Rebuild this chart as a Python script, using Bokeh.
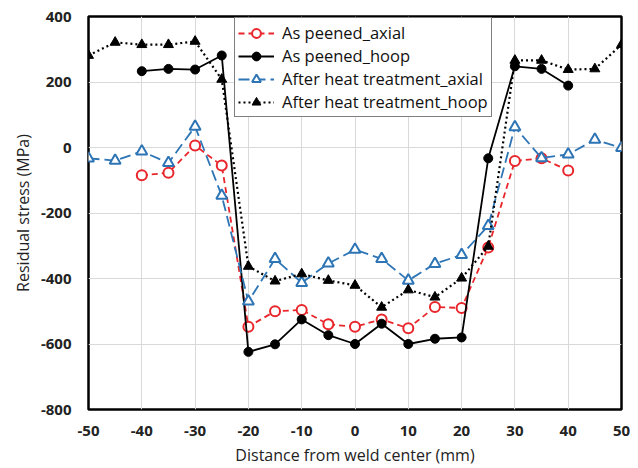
from bokeh.plotting import figure
from bokeh.models import Legend, LegendItem, FixedTicker, Range1d
from bokeh.embed import file_html
from bokeh.resources import INLINE

x_pa = [-40, -35, -30, -25, -20, -15, -10, -5, 0, 5, 10, 15, 20, 25, 30, 35, 40]
pa_axial = [-85, -77, 6, -55, -547, -500, -496, -540, -547, -525, -552, -487, -490, -305, -41, -33, -70]
pa_hoop = [233, 240, 238, 281, -624, -601, -525, -573, -600, -538, -600, -584, -580, -33, 248, 240, 189]

x_ht = [-50, -45, -40, -35, -30, -25, -20, -15, -10, -5, 0, 5, 10, 15, 20, 25, 30, 35, 40, 45, 50]
ht_axial = [-33, -40, -12, -47, 64, -147, -470, -340, -413, -354, -312, -340, -406, -355, -328, -239, 62, -32, -21, 24, -1]
ht_hoop = [281, 321, 314, 314, 324, 208, -363, -408, -386, -406, -421, -488, -435, -457, -399, -302, 266, 266, 238, 240, 314]

x_ticks = [-50, -40, -30, -20, -10, 0, 10, 20, 30, 40, 50]
y_ticks = [-800, -600, -400, -200, 0, 200, 400]

FONT = "Open Sans"
RED = "#e8262b"
BLUE = "#2e75b6"

p = figure(width=638, height=468, output_backend="svg", toolbar_location=None,
           x_range=Range1d(-50, 50), y_range=Range1d(-800, 400),
           min_border_left=88, min_border_right=17, min_border_top=16, min_border_bottom=59)

p.outline_line_color = "black"
p.outline_line_width = 2.5
p.background_fill_color = "white"
p.border_fill_color = "white"

p.xaxis.ticker = FixedTicker(ticks=x_ticks)
p.yaxis.ticker = FixedTicker(ticks=y_ticks)
p.xgrid.ticker = FixedTicker(ticks=x_ticks)
p.ygrid.ticker = FixedTicker(ticks=y_ticks)
p.grid.grid_line_color = "#d9d9d9"
p.grid.grid_line_width = 1

p.xaxis.major_label_overrides = {t: str(t) for t in x_ticks}
p.yaxis.major_label_overrides = {t: str(t) for t in y_ticks}

for ax in (p.xaxis, p.yaxis):
    ax.axis_line_color = None
    ax.major_tick_line_color = None
    ax.minor_tick_line_color = None
    ax.major_label_text_font = FONT
    ax.major_label_text_font_size = "15px"
    ax.major_label_text_font_style = "bold"
    ax.major_label_text_color = "#222222"
    ax.axis_label_text_font = FONT
    ax.axis_label_text_font_size = "16px"
    ax.axis_label_text_font_style = "normal"
    ax.axis_label_text_color = "#222222"

p.xaxis.axis_label = "Distance from weld center (mm)"
p.yaxis.axis_label = "Residual stress (MPa)"
p.xaxis.major_label_standoff = 10
p.yaxis.major_label_standoff = 11
p.xaxis.axis_label_standoff = 5
p.yaxis.axis_label_standoff = 4

l1 = p.line(x_pa, pa_axial, line_color=RED, line_width=1.8, line_dash="6 4")
s1 = p.scatter(x_pa, pa_axial, marker="circle", size=10, line_color=RED, line_width=2, fill_color="white")

l2 = p.line(x_pa, pa_hoop, line_color="black", line_width=1.8)
s2 = p.scatter(x_pa, pa_hoop, marker="circle", size=9, line_color="black", fill_color="black")

l3 = p.line(x_ht, ht_axial, line_color=BLUE, line_width=1.8, line_dash="11 5")
s3 = p.scatter(x_ht, ht_axial, marker="triangle", size=11, line_color=BLUE, line_width=2, fill_color="white")

l4 = p.line(x_ht, ht_hoop, line_color="black", line_width=2.2, line_dash="2 3")
s4 = p.scatter(x_ht, ht_hoop, marker="triangle", size=10, line_color="black", fill_color="black")

legend = Legend(items=[
    LegendItem(label="As peened_axial", renderers=[l1, s1]),
    LegendItem(label="As peened_hoop", renderers=[l2, s2]),
    LegendItem(label="After heat treatment_axial", renderers=[l3, s3]),
    LegendItem(label="After heat treatment_hoop", renderers=[l4, s4]),
], location=(146, 292))
legend.border_line_color = "black"
legend.border_line_width = 1.5
legend.background_fill_color = "white"
legend.background_fill_alpha = 1
legend.label_text_font = FONT
legend.label_text_font_size = "16.5px"
legend.label_text_color = "#111111"
legend.spacing = 0
legend.padding = 3
legend.margin = 0
legend.glyph_width = 36
legend.glyph_height = 22
legend.label_height = 22
legend.label_standoff = 8
p.add_layout(legend, "center")

open("out.html", "w").write(file_html(p, INLINE))
